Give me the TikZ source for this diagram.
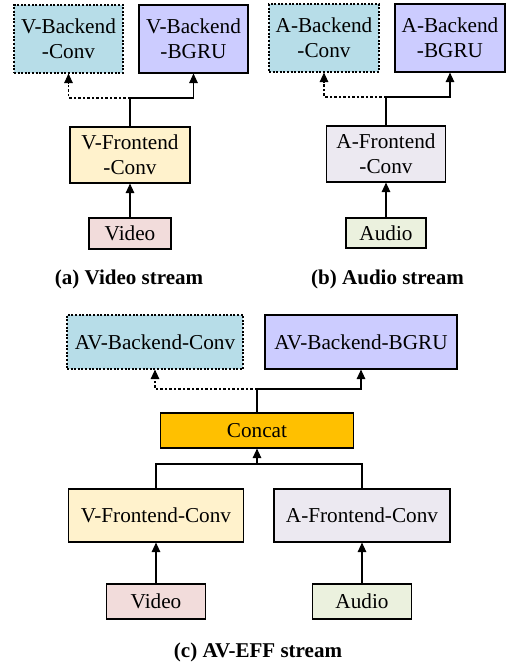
\documentclass[tikz,border=0pt]{standalone}
\usepackage{fontspec}
\setmainfont{Liberation Serif}
\usetikzlibrary{arrows.meta}
\definecolor{bconv}{HTML}{B7DDE8}
\definecolor{bgru}{HTML}{CCCCFF}
\definecolor{vfront}{HTML}{FFF2CC}
\definecolor{afront}{HTML}{ECE9F1}
\definecolor{vid}{HTML}{F2DCDB}
\definecolor{aud}{HTML}{EBF1DE}
\definecolor{cat}{HTML}{FFC000}
\tikzset{
  blk/.style={draw=black, line width=1.1bp, rectangle, inner sep=0pt, align=center,
    font=\fontsize{21.3}{25}\selectfont},
  dblk/.style={blk, dash pattern=on 2bp off 1.6bp},
  conn/.style={line width=1.1bp, -{Triangle[width=8.5bp,length=9.5bp]}},
  dconn/.style={conn, dash pattern=on 2.5bp off 2bp},
  plain/.style={line width=1.1bp},
  captext/.style={font=\fontsize{21.1}{24}\selectfont\bfseries}
}
\begin{document}
\begin{tikzpicture}[x=1bp,y=-1bp]
\useasboundingbox (0,0) rectangle (511,666);
% (a)
\node[dblk, fill=bconv, minimum width=109bp, minimum height=68bp] (a1) at (68.5,39) {V-Backend\\-Conv};
\node[blk, fill=bgru, minimum width=109bp, minimum height=68bp] (a2) at (193.5,39) {V-Backend\\-BGRU};
\node[blk, fill=vfront, minimum width=120bp, minimum height=56bp] (a3) at (130,155) {V-Frontend\\-Conv};
\node[blk, fill=vid, minimum width=82bp, minimum height=31bp] (a4) at (130,233.5) {Video};
\coordinate (ja) at (130,98);
\draw[conn] (a4.north) -- (a3.south);
\draw[conn] (a3.north) -- (ja) -| (a2.south);
\draw[dconn] (ja) -| (a1.south);
\node[captext] (capa) at (129,279) {(a) Video stream};
% (b)
\node[dblk, fill=bconv, minimum width=110bp, minimum height=68bp] (b1) at (324,38) {A-Backend\\-Conv};
\node[blk, fill=bgru, minimum width=110bp, minimum height=68bp] (b2) at (450,38) {A-Backend\\-BGRU};
\node[blk, fill=afront, minimum width=119bp, minimum height=56bp] (b3) at (386,154) {A-Frontend\\-Conv};
\node[blk, fill=aud, minimum width=80bp, minimum height=30bp] (b4) at (386,233) {Audio};
\coordinate (jb) at (386,97);
\draw[conn] (b4.north) -- (b3.south);
\draw[conn] (b3.north) -- (jb) -| (b2.south);
\draw[dconn] (jb) -| (b1.south);
\node[captext] (capb) at (387.5,279) {(b) Audio stream};
% (c)
\node[dblk, fill=bconv, minimum width=176bp, minimum height=54bp] (c1) at (155,342) {AV-Backend-Conv};
\node[blk, fill=bgru, minimum width=192bp, minimum height=54bp] (c2) at (361,342) {AV-Backend-BGRU};
\node[blk, fill=cat, minimum width=193bp, minimum height=35bp] (c3) at (257,430.5) {Concat};
\node[blk, fill=vfront, minimum width=175bp, minimum height=53bp] (c4) at (156,515.5) {V-Frontend-Conv};
\node[blk, fill=afront, minimum width=176bp, minimum height=53bp] (c5) at (362,515.5) {A-Frontend-Conv};
\node[blk, fill=vid, minimum width=99bp, minimum height=35bp] (c6) at (156,601.5) {Video};
\node[blk, fill=aud, minimum width=99bp, minimum height=35bp] (c7) at (362,601.5) {Audio};
\coordinate (jc) at (257,389);
\coordinate (jd) at (257,464);
\draw[conn] (c3.north) -- (jc) -| (c2.south);
\draw[dconn] (jc) -| (c1.south);
\draw[plain] (c4.north) |- (jd);
\draw[plain] (c5.north) |- (jd);
\draw[conn] (jd) -- (c3.south);
\draw[conn] (c6.north) -- (c4.south);
\draw[conn] (c7.north) -- (c5.south);
\node[captext] (capc) at (258,652) {(c) AV-EFF stream};
\end{tikzpicture}
\end{document}
